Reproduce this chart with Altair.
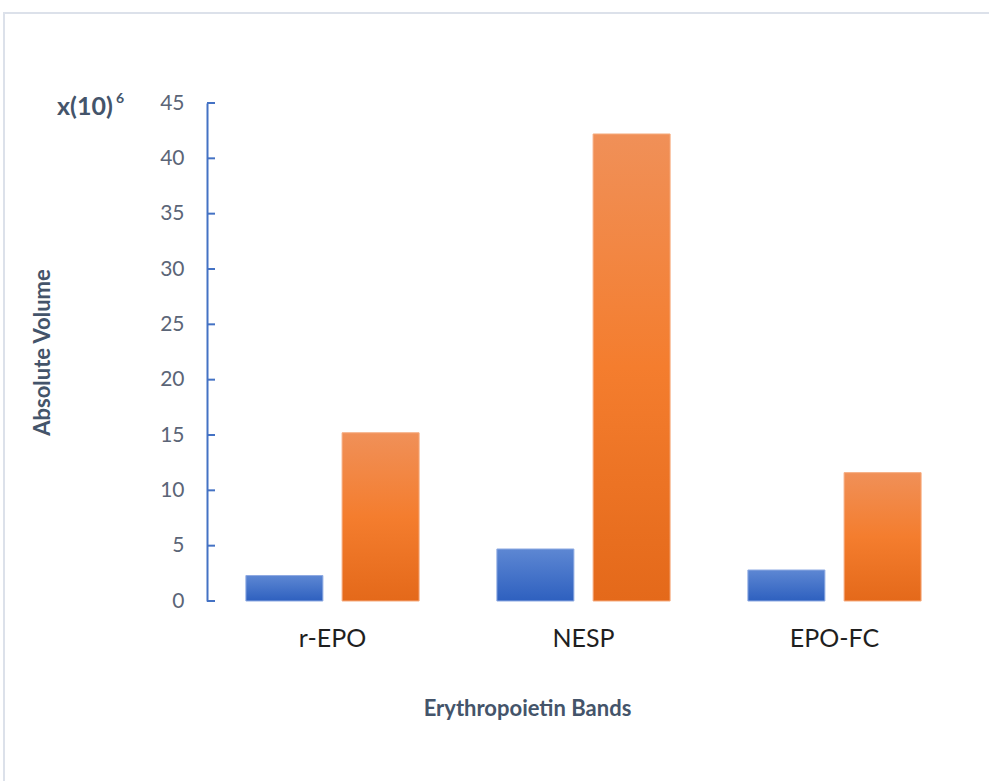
import altair as alt
import pandas as pd

categories = ["r-EPO", "NESP", "EPO-FC"]
series_a = [2.3, 4.7, 2.8]
series_b = [15.2, 42.2, 11.6]
y_ticks = [0, 5, 10, 15, 20, 25, 30, 35, 40, 45]

rows = []
for c, a, b in zip(categories, series_a, series_b):
    rows.append({"category": c, "series": "A", "value": a})
    rows.append({"category": c, "series": "B", "value": b})
df = pd.DataFrame(rows)

FONT = "Lato"
AXIS_BLUE = "#4472c4"
TITLE_COL = "#44546a"

x_enc = alt.X(
    "category:N",
    sort=categories,
    scale=alt.Scale(paddingInner=0.31, paddingOuter=0.155),
    axis=alt.Axis(
        title="Erythropoietin Bands",
        domain=False,
        ticks=False,
        labelFont=FONT,
        labelFontSize=25,
        labelColor="#1f1f1f",
        labelPadding=25,
        labelAngle=0,
        titleFont=FONT,
        titleFontSize=22,
        titleFontWeight="bold",
        titleColor=TITLE_COL,
        titleX=320,
        titleY=107,
        titleBaseline="middle",
        titleAnchor="start",
        titleAlign="center",
    ),
)
xoff = alt.XOffset("series:N", scale=alt.Scale(domain=["A", "B"], paddingInner=0.2, paddingOuter=0))
y_axis = alt.Axis(
    title="Absolute Volume",
    values=y_ticks,
    grid=False,
    ticks=False,
    domainColor=AXIS_BLUE,
    domainWidth=2,
    labelFont=FONT,
    labelFontSize=21,
    labelColor="#5b6577",
    labelPadding=23,
    titleFont=FONT,
    titleFontSize=22,
    titleFontWeight="bold",
    titleColor=TITLE_COL,
    titleX=-165,
    titleY=249,
    titleAngle=-90,
    titleBaseline="middle",
    titleAlign="center",
)
y_scale = alt.Scale(domain=[0, 45], nice=False)
y_enc = alt.Y("value:Q", scale=y_scale, axis=y_axis)

blue_grad = {
    "gradient": "linear", "x1": 0, "x2": 0, "y1": 0, "y2": 1,
    "stops": [{"offset": 0, "color": "#5d87d3"}, {"offset": 1, "color": "#2e60bf"}],
}
orange_grad = {
    "gradient": "linear", "x1": 0, "x2": 0, "y1": 0, "y2": 1,
    "stops": [
        {"offset": 0, "color": "#f09058"},
        {"offset": 0.5, "color": "#f47d2e"},
        {"offset": 1, "color": "#e4691a"},
    ],
}

base = alt.Chart(df)
bars_a = base.transform_filter(alt.datum.series == "A").mark_bar(
    color=blue_grad, stroke="#8eaae2", strokeWidth=1
).encode(x=x_enc, xOffset=xoff, y=y_enc)
bars_b = base.transform_filter(alt.datum.series == "B").mark_bar(
    color=orange_grad, stroke="#f6ab7e", strokeWidth=1
).encode(x=x_enc, xOffset=xoff, y=y_enc)

ticks = alt.Chart(pd.DataFrame({"value": y_ticks})).mark_rule(
    color=AXIS_BLUE, strokeWidth=2
).encode(
    y=y_enc,
    x=alt.value(0),
    x2=alt.value(8),
)

unit_text = alt.Chart(pd.DataFrame({"t": ["x(10)"]})).mark_text(
    font=FONT, fontSize=25, fontWeight="bold", color=TITLE_COL, align="left", baseline="middle"
).encode(text="t:N", x=alt.value(-150), y=alt.value(4))
sup_text = alt.Chart(pd.DataFrame({"t": ["6"]})).mark_text(
    font=FONT, fontSize=14, fontWeight="bold", color=TITLE_COL, align="left", baseline="middle"
).encode(text="t:N", x=alt.value(-91), y=alt.value(-4))

border = alt.Chart(pd.DataFrame({"b": [1]})).mark_rect(
    fillOpacity=0, stroke="#dce1ea", strokeWidth=2
).encode(x=alt.value(-203), x2=alt.value(800), y=alt.value(-90), y2=alt.value(720))

chart = alt.layer(bars_a, bars_b, ticks, unit_text, sup_text, border).properties(
    width=753,
    height=498,
    autosize=alt.AutoSizeParams(type="none"),
    padding={"left": 207, "top": 103, "right": 29, "bottom": 180},
    background="white",
).configure_view(stroke=None)

chart.save("out.html", embed_options={"renderer": "svg", "actions": False})
